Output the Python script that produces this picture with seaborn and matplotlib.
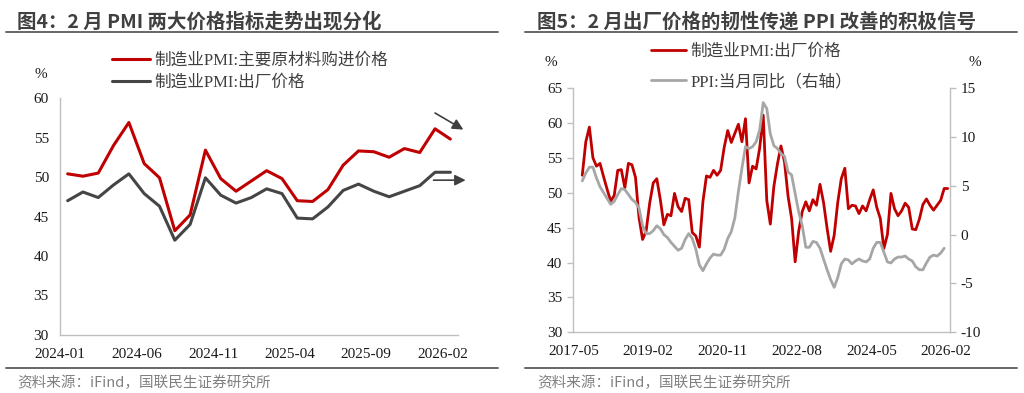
import numpy as np
import pandas as pd
import matplotlib
matplotlib.use("Agg")
import matplotlib.pyplot as plt
import seaborn as sns
from matplotlib.lines import Line2D

# ---------------- data ----------------
# Figure 4: 2024-01 .. 2026-02 (monthly)
left_purchase = [50.4, 50.1, 50.5, 54.0, 56.9, 51.7, 49.9, 43.2, 45.2, 53.4, 49.8, 48.2,
                 49.5, 50.8, 49.8, 47.0, 46.9, 48.4, 51.5, 53.3, 53.2, 52.5, 53.6, 53.1,
                 56.1, 54.8]
left_output = [47.0, 48.1, 47.4, 49.0, 50.4, 47.9, 46.3, 42.0, 44.0, 49.9, 47.7, 46.7,
               47.4, 48.5, 47.9, 44.8, 44.7, 46.2, 48.3, 49.1, 48.2, 47.5, 48.2, 48.9,
               50.6, 50.6]
left_ticklabels = ["2024-01", "2024-06", "2024-11", "2025-04", "2025-09", "2026-02"]

# Figure 5: PMI output price 2017-07 .. 2026-02, PPI yoy 2017-07 .. 2026-01
right_output = [52.5, 57.3, 59.4, 55.0, 53.8, 54.2,
                52.3, 50.5, 48.8, 49.6, 53.2, 53.3, 50.7, 54.2, 54.0, 52.2, 46.4, 43.3,
                44.5, 48.5, 51.4, 52.0, 49.0, 45.4, 46.9, 46.7, 49.9, 48.0, 47.3, 49.2,
                49.0, 44.3, 43.8, 42.2, 48.7, 52.4, 52.2, 53.2, 52.5, 53.2, 56.5, 58.9,
                57.2, 58.5, 59.8, 57.3, 60.6, 51.4, 53.8, 53.4, 56.4, 61.1, 48.9, 45.5,
                50.9, 54.1, 56.7, 54.4, 49.5, 46.3, 40.1, 44.5, 47.3, 48.7, 47.4, 49.0,
                48.2, 51.2, 48.6, 44.9, 41.6, 43.9, 48.6, 52.0, 53.5, 47.7, 48.2, 48.1,
                47.0, 48.1, 47.4, 49.0, 50.4, 47.9, 46.3, 42.0, 44.0, 49.9, 47.7, 46.7,
                47.4, 48.5, 47.9, 44.8, 44.7, 46.2, 48.3, 49.1, 48.2, 47.5, 48.2, 48.9,
                50.6, 50.6]
right_ppi = [5.5, 6.3, 6.9, 6.9, 5.8, 4.9,
             4.3, 3.7, 3.1, 3.4, 4.1, 4.7, 4.6, 4.1, 3.6, 3.3, 2.7, 0.9,
             0.1, 0.1, 0.4, 0.9, 0.6, 0.0, -0.3, -0.8, -1.2, -1.6, -1.4, -0.5,
             0.1, -0.4, -1.5, -3.1, -3.7, -3.0, -2.4, -2.0, -2.1, -2.1, -1.5, -0.4,
             0.3, 1.7, 4.4, 6.8, 9.0, 8.8, 9.0, 9.5, 10.7, 13.5, 12.9, 10.3,
             9.1, 8.8, 8.3, 8.0, 6.4, 6.1, 4.2, 2.3, 0.9, -1.3, -1.3, -0.7,
             -0.8, -1.4, -2.5, -3.6, -4.6, -5.4, -4.4, -3.0, -2.5, -2.6, -3.0, -2.7,
             -2.5, -2.7, -2.8, -2.5, -1.4, -0.8, -0.8, -1.8, -2.8, -2.9, -2.5, -2.3,
             -2.3, -2.2, -2.5, -2.7, -3.3, -3.6, -3.6, -2.9, -2.3, -2.1, -2.2, -1.9,
             -1.4]
right_ticklabels = ["2017-05", "2019-02", "2020-11", "2022-08", "2024-05", "2026-02"]

title_left = "图4：2 月 PMI 两大价格指标走势出现分化"
title_right = "图5：2 月出厂价格的韧性传递 PPI 改善的积极信号"
legend_left = ["制造业PMI:主要原材料购进价格", "制造业PMI:出厂价格"]
legend_right = ["制造业PMI:出厂价格", "PPI:当月同比（右轴）"]
source_text = "资料来源：iFind，国联民生证券研究所"

# ---------------- style ----------------
sns.set_theme(style="white")
plt.rcParams["font.family"] = ["Liberation Serif", "Noto Sans CJK SC", "DejaVu Sans"]
plt.rcParams["axes.unicode_minus"] = False

RED = "#C00000"
DGRAY = "#454545"
LGRAY = "#A6A6A6"
SPINE = "#BFBFBF"
SANS = ["Noto Sans CJK SC", "DejaVu Sans"]

W, H = 1024, 393
fig = plt.figure(figsize=(W / 100, H / 100), dpi=100)
fig.patch.set_facecolor("white")


def rect(x0, x1, ytop, ybot):
    return [x0 / W, 1 - ybot / H, (x1 - x0) / W, (ybot - ytop) / H]


def style_axis(ax):
    for s in ["top", "right"]:
        ax.spines[s].set_visible(False)
    for s in ["left", "bottom"]:
        ax.spines[s].set_color(SPINE)
        ax.spines[s].set_linewidth(1.0)
    ax.tick_params(axis="both", direction="out", length=4, width=1, color=SPINE,
                   labelsize=11, labelcolor="#1a1a1a")
    ax.tick_params(axis="y", pad=4)
    ax.tick_params(axis="x", pad=5)
    ax.set_xlabel("")
    ax.set_ylabel("")
    ax.grid(False)


# ---------------- left chart ----------------
axL = fig.add_axes(rect(60, 458, 98, 335))
dfL = pd.DataFrame({"idx": np.arange(len(left_purchase)),
                    "purchase": left_purchase, "output": left_output})
sns.lineplot(data=dfL, x="idx", y="purchase", color=RED, lw=2.2, ax=axL, legend=False)
sns.lineplot(data=dfL, x="idx", y="output", color=DGRAY, lw=2.2, ax=axL, legend=False)
axL.set_xlim(-0.5, len(left_purchase) - 0.5)
axL.set_ylim(30, 60)
axL.set_yticks(np.arange(30, 61, 5))
axL.set_xticks(np.arange(-0.5, len(left_purchase) - 0.5, 5))
axL.set_xticklabels(left_ticklabels)
style_axis(axL)

hL = [Line2D([], [], color=RED, lw=2.2), Line2D([], [], color=DGRAY, lw=2.2)]
legL = axL.legend(hL, legend_left, loc="upper left", bbox_to_anchor=(112 / W, 1 - 53 / H),
                  bbox_transform=fig.transFigure, frameon=False, fontsize=12,
                  handlelength=2.3, handletextpad=0.25, labelspacing=0.35,
                  borderpad=0, borderaxespad=0)
for t in legL.get_texts():
    t.set_color("#404040")

# trend arrows
arrow_kw = dict(arrowstyle="-|>", color="#404040", lw=1.2, mutation_scale=16,
                shrinkA=0, shrinkB=0)
n = len(left_purchase)
axL.annotate("", xy=(n - 0.15, left_purchase[-1] + 1.2), xytext=(n - 2.0, left_purchase[-1] + 3.3),
             arrowprops=arrow_kw, annotation_clip=False)
axL.annotate("", xy=(n, left_output[-1] - 1.0), xytext=(n - 2.1, left_output[-1] - 1.0),
             arrowprops=arrow_kw, annotation_clip=False)

fig.text(41 / W, 1 - 75 / H, "%", ha="center", va="center", fontsize=11, color="#1a1a1a")

# ---------------- right chart ----------------
axR = fig.add_axes(rect(573.4, 949.5, 88, 332.3))
dfR1 = pd.DataFrame({"idx": np.arange(len(right_output)), "output": right_output})
dfR2 = pd.DataFrame({"idx": np.arange(len(right_ppi)), "ppi": right_ppi})
sns.lineplot(data=dfR1, x="idx", y="output", color=RED, lw=2.0, ax=axR, legend=False)
axR.set_xlim(-2.5, 103.5)
axR.set_ylim(30, 65)
axR.set_yticks(np.arange(30, 66, 5))
axR.set_xticks(np.arange(-2.5, 103, 21))
axR.set_xticklabels(right_ticklabels)
style_axis(axR)

axR2 = axR.twinx()
sns.lineplot(data=dfR2, x="idx", y="ppi", color=LGRAY, lw=2.0, ax=axR2, legend=False)
axR2.set_ylim(-10, 15)
axR2.set_yticks(np.arange(-10, 16, 5))
for s in ["top", "left", "bottom"]:
    axR2.spines[s].set_visible(False)
axR2.spines["right"].set_color(SPINE)
axR2.spines["right"].set_linewidth(1.0)
axR2.tick_params(axis="y", direction="out", length=4, width=1, color=SPINE,
                 labelsize=11, labelcolor="#1a1a1a", pad=4)
axR2.set_ylabel("")
axR2.grid(False)

hR = [Line2D([], [], color=RED, lw=2.0), Line2D([], [], color=LGRAY, lw=2.0)]
legR = axR2.legend(hR, legend_right, loc="upper left", bbox_to_anchor=(651 / W, 1 - 44 / H),
                   bbox_transform=fig.transFigure, frameon=False, fontsize=12,
                   handlelength=2.1, handletextpad=0.25, labelspacing=0.85,
                   borderpad=0, borderaxespad=0)
for t in legR.get_texts():
    t.set_color("#404040")

fig.text(551 / W, 1 - 62 / H, "%", ha="center", va="center", fontsize=11, color="#1a1a1a")
fig.text(975 / W, 1 - 62 / H, "%", ha="center", va="center", fontsize=11, color="#1a1a1a")

# ---------------- titles, rules, sources ----------------
fig.text(17 / W, 1 - 22 / H, title_left, ha="left", va="center", fontsize=14,
         fontweight="bold", color="#404040", family=SANS)
fig.text(537 / W, 1 - 22 / H, title_right, ha="left", va="center", fontsize=14,
         fontweight="bold", color="#404040", family=SANS)
for x0, x1 in [(6, 498), (525, 1017)]:
    for yy in (32, 367.5):
        fig.add_artist(Line2D([x0 / W, x1 / W], [1 - yy / H, 1 - yy / H],
                              color="#666666", lw=1.4, transform=fig.transFigure))
fig.text(17 / W, 1 - 383 / H, source_text, ha="left", va="center", fontsize=10.5,
         color="#808080", family=SANS)
fig.text(537 / W, 1 - 383 / H, source_text, ha="left", va="center", fontsize=10.5,
         color="#808080", family=SANS)

fig.savefig("out.png", dpi=100, facecolor="white")
